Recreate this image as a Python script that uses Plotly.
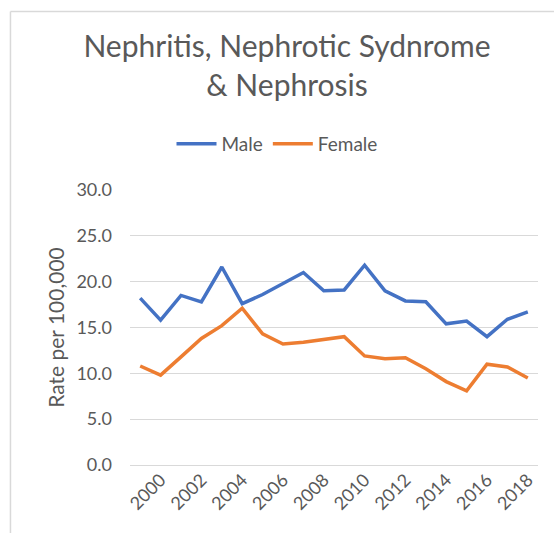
import plotly.graph_objects as go

years = list(range(1999, 2019))
male = [18.2, 15.8, 18.5, 17.8, 21.6, 17.6, 18.6, 19.8, 21.0, 19.0,
        19.1, 21.8, 19.0, 17.9, 17.8, 15.4, 15.7, 14.0, 15.9, 16.7]
female = [10.8, 9.8, 11.8, 13.8, 15.2, 17.1, 14.3, 13.2, 13.4, 13.7,
          14.0, 11.9, 11.6, 11.7, 10.5, 9.1, 8.1, 11.0, 10.7, 9.5]
tick_years = list(range(2000, 2019, 2))

text_grey = "#595959"
grid_grey = "#D9D9D9"

fig = go.Figure()
fig.add_trace(go.Scatter(x=years, y=male, mode="lines", name="Male",
                         line=dict(color="#4472C4", width=3.5)))
fig.add_trace(go.Scatter(x=years, y=female, mode="lines", name="Female",
                         line=dict(color="#ED7D31", width=3.5)))

# chart border (left and top edges are visible in the picture)
fig.add_shape(type="line", xref="paper", yref="paper",
              x0=-0.293, x1=1.2, y0=1.649, y1=1.649,
              line=dict(color=grid_grey, width=1.5))
fig.add_shape(type="line", xref="paper", yref="paper",
              x0=-0.293, x1=-0.293, y0=1.649, y1=-0.4,
              line=dict(color=grid_grey, width=1.5))

fig.update_layout(
    width=554, height=533,
    margin=dict(l=130, r=16, t=190, b=68),
    paper_bgcolor="white", plot_bgcolor="white",
    font=dict(family="Lato, Carlito, sans-serif", color=text_grey, size=18),
    title=dict(text="Nephritis, Nephrotic Sydnrome<br>& Nephrosis",
               x=287 / 554, xanchor="center", xref="container",
               y=1 - 57 / 533, yanchor="top", yref="container",
               font=dict(size=30, color=text_grey)),
    showlegend=True,
    legend=dict(orientation="h", xref="container", yref="container",
                x=277 / 554, xanchor="center", y=1 - 144 / 533, yanchor="middle",
                font=dict(size=19, color=text_grey), itemwidth=40,
                tracegroupgap=0),
    xaxis=dict(range=[1998.5, 2018.5], tickvals=tick_years,
               ticktext=[str(y) for y in tick_years], tickangle=-45,
               showgrid=False, zeroline=False, showline=False,
               tickfont=dict(size=18, color=text_grey)),
    yaxis=dict(range=[0, 30], dtick=5, tickformat=".1f",
               showgrid=True, gridcolor=grid_grey, gridwidth=1,
               zeroline=True, zerolinecolor=grid_grey, zerolinewidth=1,
               showline=False, ticklabelstandoff=17,
               tickfont=dict(size=18, color=text_grey),
               title=dict(text="Rate per 100,000", standoff=6,
                          font=dict(size=21, color=text_grey))),
)

fig.write_html("out.html", config={"displayModeBar": False},
               post_script="document.body.style.margin='0';")
